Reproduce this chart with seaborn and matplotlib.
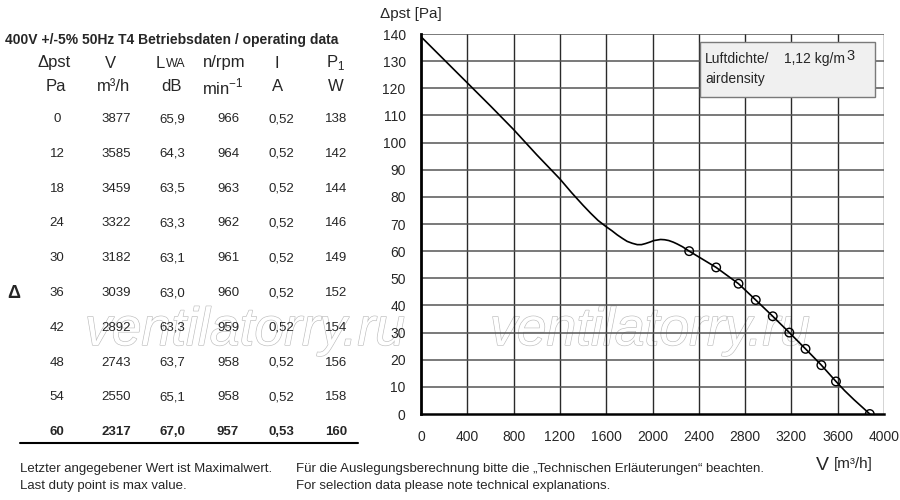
import matplotlib
matplotlib.use("Agg")
import matplotlib.pyplot as plt
import matplotlib.patheffects as pe
from matplotlib.lines import Line2D
from matplotlib.patches import Rectangle
import seaborn as sns
import pandas as pd

# ---- data ----
col_dp = ["0", "12", "18", "24", "30", "36", "42", "48", "54", "60"]
col_v = ["3877", "3585", "3459", "3322", "3182", "3039", "2892", "2743", "2550", "2317"]
col_lwa = ["65,9", "64,3", "63,5", "63,3", "63,1", "63,0", "63,3", "63,7", "65,1", "67,0"]
col_rpm = ["966", "964", "963", "962", "961", "960", "959", "958", "958", "957"]
col_i = ["0,52", "0,52", "0,52", "0,52", "0,52", "0,52", "0,52", "0,52", "0,52", "0,53"]
col_p1 = ["138", "142", "144", "146", "149", "152", "154", "156", "158", "160"]

point_v = [3877, 3585, 3459, 3322, 3182, 3039, 2892, 2743, 2550, 2317]
point_p = [0, 12, 18, 24, 30, 36, 42, 48, 54, 60]

curve_v = [0, 200, 400, 600, 800, 1000, 1200, 1300, 1400, 1465, 1530, 1600, 1650,
           1695, 1740, 1781, 1825, 1868, 1905, 1940, 1975, 2012, 2070, 2105, 2141,
           2180, 2213, 2260, 2317, 2550, 2743, 2892, 3039, 3182, 3322, 3459,
           3585, 3660, 3740, 3810, 3877]
curve_p = [139, 130.5, 122, 113.5, 104.8, 95.5, 86.6, 81.6, 76.9, 74.0, 71.3, 69.0, 67.5,
           66.0, 64.7, 63.6, 62.9, 62.4, 62.4, 62.8, 63.3, 63.9, 64.3, 64.2, 63.9,
           63.3, 62.65, 61.6, 60, 54, 48, 42, 36, 30, 24, 18,
           12, 8.6, 5.3, 2.6, 0]

x_ticks = [0, 400, 800, 1200, 1600, 2000, 2400, 2800, 3200, 3600, 4000]
y_ticks = list(range(0, 141, 10))

sns.set_style("white")
plt.rcParams["font.family"] = ["Liberation Sans", "DejaVu Sans"]
plt.rcParams["mathtext.fontset"] = "custom"
plt.rcParams["mathtext.rm"] = "Liberation Sans"

W, H = 900, 500
fig = plt.figure(figsize=(9, 5), dpi=100)


def fx(x):
    return x / W


def fy(y):
    return 1 - y / H


ax = fig.add_axes([fx(421), fy(414), 463 / W, 380 / H])
ax.set_facecolor("none")

curve_df = pd.DataFrame({"V": curve_v, "p": curve_p})
pts_df = pd.DataFrame({"V": point_v, "p": point_p})
sns.lineplot(data=curve_df, x="V", y="p", ax=ax, color="black", lw=1.2,
             sort=False, estimator=None, zorder=3)
sns.scatterplot(data=pts_df, x="V", y="p", ax=ax, s=38, facecolor="none",
                edgecolor="black", linewidth=1.0, zorder=4)

ax.set_xlim(0, 4000)
ax.set_ylim(0, 140)
ax.set_xticks(x_ticks)
ax.set_yticks(y_ticks)
ax.set_xlabel("")
ax.set_ylabel("")
ax.grid(False)
for xv in x_ticks[1:]:
    ax.axvline(xv, color="#2a2a2a", lw=1.0, zorder=1)
for yv in y_ticks[1:]:
    ax.axhline(yv, color="#555555", lw=1.1, zorder=1)
ax.tick_params(axis="both", direction="out", length=8, width=1.1, color="#444444",
               labelsize=10, pad=3)
ax.tick_params(axis="x", pad=3.5)
for s in ["top", "right"]:
    ax.spines[s].set_visible(False)
ax.spines["left"].set_color("black")
ax.spines["left"].set_linewidth(2.0)
ax.spines["bottom"].set_color("black")
ax.spines["bottom"].set_linewidth(1.8)
ax.spines["left"].set_zorder(5)
ax.spines["bottom"].set_zorder(5)

# axis labels
fig.text(fx(380), fy(14), "Δpst [Pa]", fontsize=11, ha="left", va="center")
fig.text(fx(816), fy(465), "V", fontsize=14, ha="left", va="center")
fig.text(fx(834), fy(464), "[m³/h]", fontsize=11, ha="left", va="center")

# air density box
fig.patches.append(Rectangle((fx(700), fy(97)), 175 / W, 55 / H, transform=fig.transFigure,
                             facecolor="#f0f0f0", edgecolor="#7a7a7a", lw=1.0, zorder=6))
fig.text(fx(705), fy(59), "Luftdichte/", fontsize=10, ha="left", va="center", zorder=7)
fig.text(fx(784), fy(59), "1,12 kg/m", fontsize=10, ha="left", va="center", zorder=7)
fig.text(fx(846), fy(56), "3", fontsize=10.5, ha="left", va="center", zorder=7)
fig.text(fx(705), fy(79), "airdensity", fontsize=10, ha="left", va="center", zorder=7)

# watermarks
for xw in (85, 490):
    fig.text(fx(xw), fy(345), "ventilatorry.ru", fontsize=38.5, style="italic",
             color="white", ha="left", va="baseline", zorder=-1,
             path_effects=[pe.withStroke(linewidth=0.9, foreground="#bdbdbd")])

# table
fig.text(fx(5), fy(40), "400V +/-5% 50Hz T4 Betriebsdaten / operating data",
         fontsize=10, fontweight="bold", ha="left", va="center")

hdr_y1, hdr_y2 = 63, 87
fig.text(fx(54), fy(hdr_y1), "Δpst", fontsize=12, ha="center", va="center")
fig.text(fx(110), fy(hdr_y1), "V", fontsize=12, ha="center", va="center")
fig.text(fx(165), fy(hdr_y1), "L", fontsize=12, ha="right", va="center")
fig.text(fx(166), fy(hdr_y1 + 1), "WA", fontsize=9, ha="left", va="center")
fig.text(fx(224), fy(hdr_y1), "n/rpm", fontsize=12, ha="center", va="center")
fig.text(fx(277), fy(hdr_y1), "I", fontsize=12, ha="center", va="center")
fig.text(fx(336), fy(hdr_y1), r"P$_{\mathregular{1}}$", fontsize=12, ha="center", va="center")

fig.text(fx(56), fy(hdr_y2), "Pa", fontsize=12, ha="center", va="center")
fig.text(fx(114), fy(hdr_y2), "m³/h", fontsize=12, ha="center", va="center")
fig.text(fx(172), fy(hdr_y2), "dB", fontsize=12, ha="center", va="center")
fig.text(fx(223), fy(hdr_y2), r"min$^{\mathregular{-1}}$", fontsize=12, ha="center", va="center")
fig.text(fx(278), fy(hdr_y2), "A", fontsize=12, ha="center", va="center")
fig.text(fx(336), fy(hdr_y2), "W", fontsize=12, ha="center", va="center")

col_x = [57, 116, 172, 228, 281, 336]
cols = [col_dp, col_v, col_lwa, col_rpm, col_i, col_p1]
n = len(col_dp)
for i in range(n):
    yy = 119 + i * 34.8
    bold = (i == n - 1)
    for cx, col in zip(col_x, cols):
        fig.text(fx(cx), fy(yy), col[i], fontsize=9.5, ha="center", va="center",
                 fontweight="bold" if bold else "normal")

fig.text(fx(14), fy(293), "Δ", fontsize=13, fontweight="bold", ha="center", va="center")

fig.lines.append(Line2D([fx(20), fx(358)], [fy(443), fy(443)], transform=fig.transFigure,
                        color="black", lw=1.5))

# footer
fig.text(fx(20), fy(469), "Letzter angegebener Wert ist Maximalwert.", fontsize=9.5,
         ha="left", va="center")
fig.text(fx(20), fy(486), "Last duty point is max value.", fontsize=9.5,
         ha="left", va="center")
fig.text(fx(296), fy(469),
         "Für die Auslegungsberechnung bitte die „Technischen Erläuterungen“ beachten.",
         fontsize=9.5, ha="left", va="center")
fig.text(fx(296), fy(486), "For selection data please note technical explanations.",
         fontsize=9.5, ha="left", va="center")

fig.savefig("out.png", dpi=100)
